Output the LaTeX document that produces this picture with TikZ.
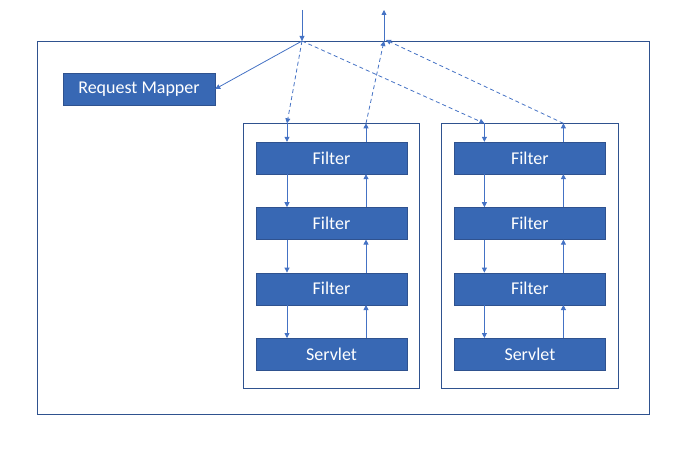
\documentclass[tikz,border=0pt]{standalone}
\usepackage{fontspec}
\setmainfont{Carlito}
\usetikzlibrary{arrows.meta,positioning,calc,fit}
\definecolor{boxblue}{RGB}{56,104,180}
\definecolor{boxedge}{RGB}{47,82,143}
\definecolor{linkblue}{RGB}{68,114,196}

\begin{document}
\begin{tikzpicture}[
      x=1pt,y=-1pt,
      >={Triangle[length=5pt,width=5pt]},
      stage/.style={draw=boxedge,fill=boxblue,text=white,minimum width=151,minimum height=32,inner sep=0,font=\fontsize{18}{21}\selectfont},
      holder/.style={draw=boxedge,line width=0.9pt,inner xsep=12.5,inner ysep=18},
      link/.style={draw=linkblue,line width=0.8pt,->},
      node distance=33pt
    ]
    \useasboundingbox (0,0) rectangle (687,454);
    \draw[boxedge,line width=0.9pt] (37,41) rectangle (649,414);
    \node[stage,minimum width=152] (mapper) at (139,89) {Request Mapper};
    % first chain
    \node[stage] (f11) at (331.5,158) {Filter};
    \node[stage,below=of f11] (f12) {Filter};
    \node[stage,below=of f12] (f13) {Filter};
    \node[stage,below=of f13] (f14) {Servlet};
    % second chain
    \node[stage,right=47pt of f11] (f21) {Filter};
    \node[stage,below=of f21] (f22) {Filter};
    \node[stage,below=of f22] (f23) {Filter};
    \node[stage,below=of f23] (f24) {Servlet};
    \node[holder,fit=(f11)(f14)] (box1) {};
    \node[holder,fit=(f21)(f24)] (box2) {};
    \coordinate (src) at (302,10);
    \coordinate (dst) at (384,10);
    \coordinate (in) at (302,41);
    \coordinate (out) at (384,41);
    \coordinate (dn1) at ([xshift=-44.5pt]f11.north |- box1.north);
    \coordinate (up1) at ([xshift=34.5pt]f11.north |- box1.north);
    \coordinate (dn2) at ([xshift=-45.5pt]f21.north |- box2.north);
    \coordinate (up2) at ([xshift=33.5pt]f21.north |- box2.north);
    \foreach \k in {1,2}{
      \foreach \i/\j in {1/2,2/3,3/4}{
        \draw[link] (f\k\i.south -| dn\k) -- (f\k\j.north -| dn\k);
        \draw[link] (f\k\j.north -| up\k) -- (f\k\i.south -| up\k);
      }
      \draw[link] (dn\k) -- (dn\k |- f\k1.north);
      \draw[link] (up\k |- f\k1.north) -- (up\k);
    }
    \draw[link] (src) -- (in);
    \draw[link] (out) -- (dst);
    \draw[link] (in) -- (mapper.east);
    \draw[link,dash pattern=on 4pt off 3pt] (in) -- (dn1);
    \draw[link,dash pattern=on 4pt off 3pt] (in) -- (dn2);
    \draw[link,dash pattern=on 4pt off 3pt] (up1) -- (out);
    \draw[link,dash pattern=on 4pt off 3pt] (up2) -- ([xshift=2pt,yshift=1pt]out);
  \end{tikzpicture}
\end{document}
